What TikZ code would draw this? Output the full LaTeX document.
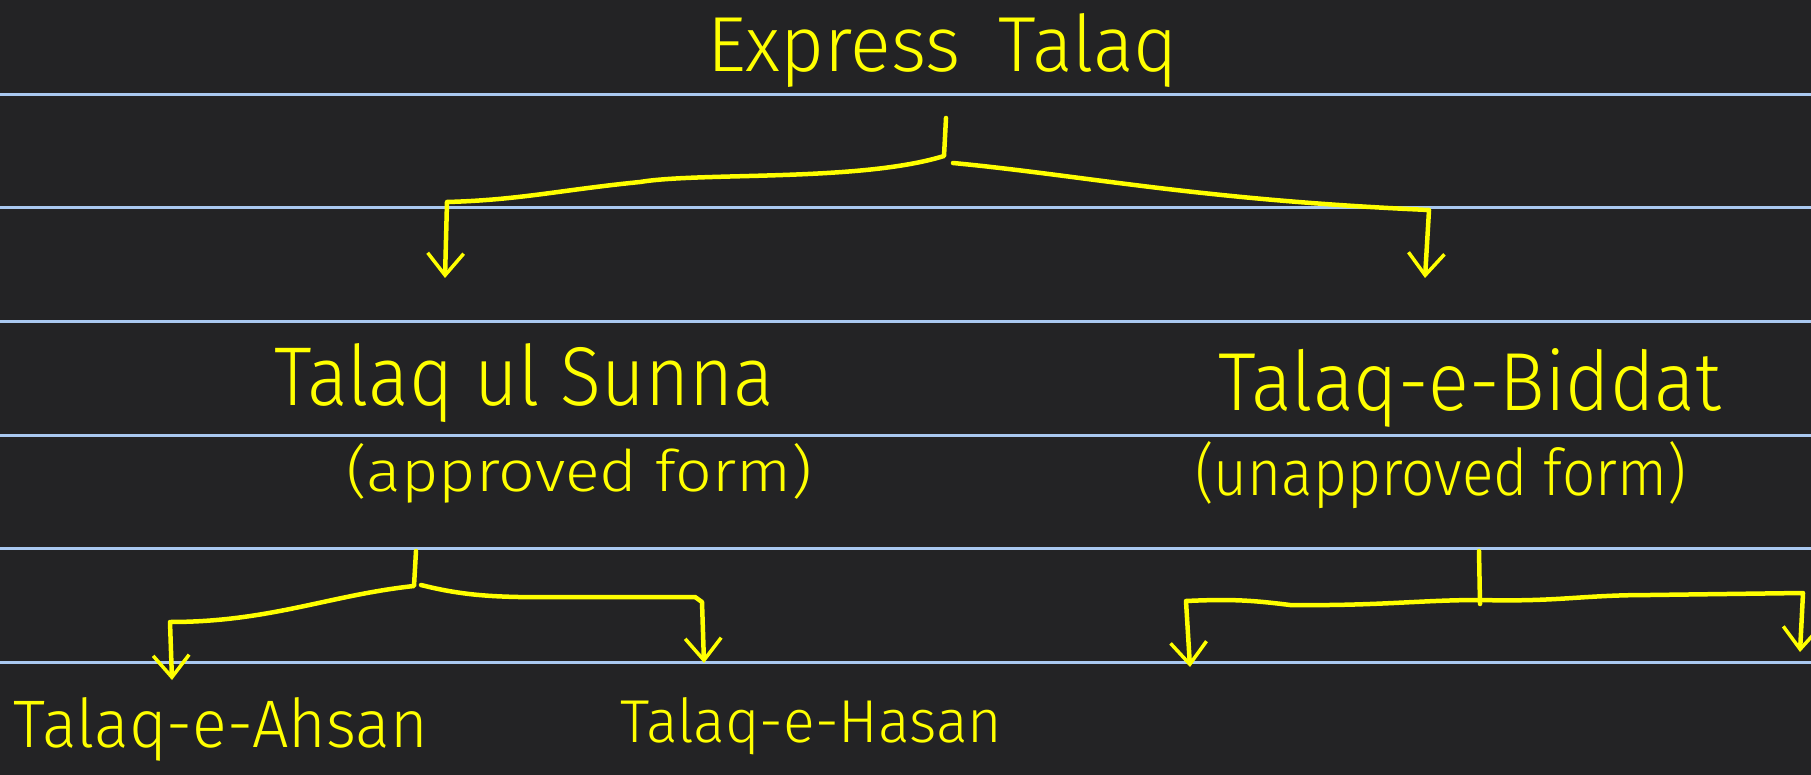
\documentclass[tikz,border=0pt]{standalone}
\usepackage{fontspec}
\setmainfont{Fira Sans Light}
\usetikzlibrary{arrows.meta}
\definecolor{bg}{HTML}{232325}
\definecolor{ruleblue}{HTML}{A9C8F0}
\definecolor{ink}{HTML}{FFFF00}
\tikzset{
 hw/.style={anchor=base west, inner sep=0pt, outer sep=0pt, text=ink},
 conn/.style={draw=ink, line width=4.5pt, line cap=round, line join=round},
 arr/.style={conn, -{Straight Barb[length=22pt,width=36pt,line width=3.5pt]}},
 ruleline/.style={draw=ruleblue, line width=3pt}
}
\newcommand{\hwtext}[3]{\resizebox{#1pt}{#2pt}{#3}}
\begin{document}
\begin{tikzpicture}[x=1pt,y=-1pt]
\fill[bg] (0,0) rectangle (1811,775);
\useasboundingbox (0,0) rectangle (1811,775);
\foreach \y in {95,208,322,435,548,662} \draw[ruleline] (0,\y) -- (1811,\y);

\node[hw] (root) at (707,72) {\hwtext{471}{58}{Express\hspace{0.5em}Talaq}};
\node[hw] (sunna) at (274,405) {\hwtext{500}{62}{Talaq ul Sunna}};
\node[hw] (sunnaf) at (346,491) {\hwtext{466}{48}{(approved form)}};
\node[hw] (biddat) at (1218,410) {\hwtext{503}{62}{Talaq-e-Biddat}};
\node[hw] (biddatf) at (1195,495) {\hwtext{491}{54}{(unapproved form)}};
\node[hw] (ahsan) at (14,747) {\hwtext{414}{50}{Talaq-e-Ahsan}};
\node[hw] (hasan) at (620,742) {\hwtext{382}{45}{Talaq-e-Hasan}};

% connector 1
\coordinate (r1) at (946,118);
\coordinate (j1) at (944,156);
\coordinate (j1r) at (953,163);
\coordinate (c1l) at (447,202);
\coordinate (t1l) at (445,278);
\coordinate (c1r) at (1429,210);
\coordinate (t1r) at (1425,278);
\draw[arr] (r1) -- (j1) .. controls (860,182) and (700,172) .. (640,182) .. controls (560,190) and (520,200) .. (c1l) -- (t1l);
\draw[arr] (j1r) .. controls (1080,175) and (1200,200) .. (c1r) -- (t1r);

% connector 2
\coordinate (r2) at (416,551);
\coordinate (j2) at (414,586);
\coordinate (j2r) at (421,585);
\coordinate (c2l) at (170,622);
\coordinate (t2l) at (172,680);
\coordinate (m2r) at (695,597);
\coordinate (c2r) at (702,602);
\coordinate (t2r) at (704,663);
\draw[arr] (r2) -- (j2) .. controls (330,595) and (270,622) .. (c2l) -- (t2l);
\draw[arr] (j2r) .. controls (480,600) and (520,597) .. (620,597) -- (m2r) -- (c2r) -- (t2r);

% connector 3
\coordinate (r3) at (1479,551);
\coordinate (j3) at (1480,604);
\coordinate (k3) at (1480,600);
\coordinate (c3l) at (1186,601);
\coordinate (t3l) at (1190,667);
\coordinate (c3r) at (1803,593);
\coordinate (t3r) at (1800,652);
\draw[conn] (r3) -- (j3);
\draw[arr] (k3) .. controls (1420,600) and (1380,606) .. (1290,605) .. controls (1250,600) and (1230,599) .. (c3l) -- (t3l);
\draw[arr] (k3) .. controls (1560,602) and (1580,595) .. (1650,595) -- (c3r) -- (t3r);
\end{tikzpicture}
\end{document}
